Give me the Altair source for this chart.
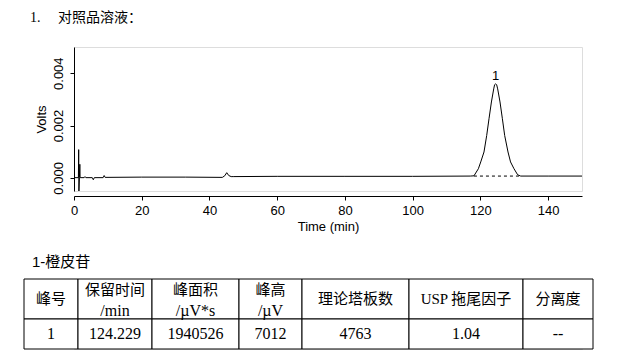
import altair as alt
import pandas as pd

# ---------------- data ----------------
trace_time = [0, 1.3, 1.38, 1.45, 1.6, 1.72, 1.8, 3.0, 3.25, 3.5, 5.4, 5.7, 6.0,
              8.6, 8.9, 9.2, 20, 33, 43.8, 44.5, 45.1, 45.7, 46.4, 47, 60, 80, 100,
              117, 118.1, 119.4, 120.1, 121.06, 121.86, 122.54, 123.25, 123.93,
              124.2, 124.5, 124.8, 125.1, 125.79, 126.49, 127.17, 128.15, 128.9,
              129.92, 131.0, 131.9, 140, 150]
trace_volts = [0.00001, 0.00001, 0.00108, -0.0005, 0.00001, 0.00052, 0.00001,
               0.00001, 0.00005, 0.00001, 0.00001, -0.00007, 0.00001,
               0.00001, 0.00009, 0.00002, 0.00003, 0.00003, 0.00002, 0.00008,
               0.0002, 0.00009, 0.00005, 0.00005, 0.00006, 0.00006, 0.00006,
               0.00007, 0.00008, 0.00035, 0.00061, 0.00099, 0.00162, 0.00226,
               0.0029, 0.0034, 0.00356, 0.00359, 0.00356, 0.0034, 0.0029,
               0.00226, 0.00162, 0.00099, 0.00061, 0.00035, 0.00012, 0.00007,
               0.00007, 0.00007]

baseline_time = [118.1, 131.9]
baseline_volts = [0.00007, 0.00007]

peak_time = [124.5]
peak_volts = [0.00359]
peak_name = ["1"]

header_main = ["峰号", "保留时间", "峰面积", "峰高", "理论塔板数", "USP 拖尾因子", "分离度"]
header_unit = ["", "/min", "/µV*s", "/µV", "", "", ""]
row_values = ["1", "124.229", "1940526", "7012", "4763", "1.04", "--"]

# ---------------- layout constants ----------------
col_widths = [54, 74, 87, 63, 107, 114, 70]
row_heights = [40, 30]

SERIF_CJK = "Liberation Serif, Noto Sans CJK SC"
SANS = "Liberation Sans, Arial, Noto Sans CJK SC"

trace_df = pd.DataFrame({"t": trace_time, "v": trace_volts})
base_df = pd.DataFrame({"t": baseline_time, "v": baseline_volts})
peak_df = pd.DataFrame({"t": peak_time, "v": peak_volts, "name": peak_name})

xs = alt.Scale(domain=[0, 150], nice=False, zero=False)
ys = alt.Scale(domain=[-0.0005, 0.005], nice=False, zero=False)

x_axis = alt.Axis(
    title="Time (min)", values=list(range(0, 151, 10)),
    labelExpr="datum.value % 20 == 0 ? datum.label : ''",
    grid=False, offset=5, tickSize=4, labelPadding=4, titlePadding=3,
    labelFont=SANS, titleFont=SANS, labelFontSize=13, titleFontSize=13,
    titleFontWeight="normal", labelColor="black", titleColor="black",
    domainColor="black", tickColor="black", labelFlush=False,
)
y_axis = alt.Axis(
    title="Volts", values=[0, 0.001, 0.002, 0.003, 0.004],
    labelExpr="round(datum.value * 1000) % 2 == 0 ? format(datum.value, '.3f') : ''",
    grid=False, tickSize=4, labelAngle=270, labelAlign="center",
    labelBaseline="alphabetic", labelPadding=8, titlePadding=4,
    labelFont=SANS, titleFont=SANS, labelFontSize=13, titleFontSize=13,
    titleFontWeight="normal", labelColor="black", titleColor="black",
    domainColor="black", tickColor="black", labelFlush=False,
)

line = alt.Chart(trace_df).mark_line(color="black", strokeWidth=1).encode(
    x=alt.X("t:Q", scale=xs, axis=x_axis),
    y=alt.Y("v:Q", scale=ys, axis=y_axis),
)
dash = alt.Chart(base_df).mark_line(color="black", strokeWidth=1, strokeDash=[3, 3]).encode(
    x=alt.X("t:Q", scale=xs), y=alt.Y("v:Q", scale=ys)
)
label = alt.Chart(peak_df).mark_text(
    dy=-8, font=SANS, fontSize=13, color="black", baseline="middle"
).encode(x=alt.X("t:Q", scale=xs), y=alt.Y("v:Q", scale=ys), text="name:N")

top = alt.layer(line, dash, label).properties(
    width=508, height=144,
    title=alt.TitleParams(
        "1.\u2003\u00a0对照品溶液：", anchor="start", frame="group", dx=-44,
        offset=22, font=SERIF_CJK, fontSize=14, fontWeight="normal", color="black",
    ),
)

# ---------------- table ----------------
edges = [0]
for w in col_widths:
    edges.append(edges[-1] + w)
rows_y = [0, row_heights[0], row_heights[0] + row_heights[1]]

cells = []
for r in range(2):
    for c in range(len(col_widths)):
        cells.append({"x0": edges[c], "x1": edges[c + 1], "y0": rows_y[r], "y1": rows_y[r + 1]})
cells_df = pd.DataFrame(cells)

head_texts = []
value_texts = []
for c in range(len(col_widths)):
    cx = (edges[c] + edges[c + 1]) / 2
    if header_unit[c]:
        head_texts.append({"x": cx, "y": row_heights[0] * 0.28, "s": header_main[c]})
        value_texts.append({"x": cx, "y": row_heights[0] * 0.79, "s": header_unit[c]})
    else:
        head_texts.append({"x": cx, "y": row_heights[0] * 0.5, "s": header_main[c]})
    value_texts.append({"x": cx, "y": row_heights[0] + row_heights[1] * 0.5, "s": row_values[c]})
head_df = pd.DataFrame(head_texts)
value_df = pd.DataFrame(value_texts)

tx = alt.Scale(domain=[0, edges[-1]], range=[-50, edges[-1] - 50], nice=False, zero=False)
ty = alt.Scale(domain=[0, rows_y[-1]], reverse=True, nice=False, zero=False)

rects = alt.Chart(cells_df).mark_rect(fill="white", stroke="black", strokeWidth=1).encode(
    x=alt.X("x0:Q", scale=tx, axis=None), x2="x1:Q",
    y=alt.Y("y0:Q", scale=ty, axis=None), y2="y1:Q",
)
head_text = alt.Chart(head_df).mark_text(
    font=SERIF_CJK, fontSize=15, color="black", baseline="middle", align="center"
).encode(
    x=alt.X("x:Q", scale=tx, axis=None), y=alt.Y("y:Q", scale=ty, axis=None), text="s:N"
)
value_text = alt.Chart(value_df).mark_text(
    font=SERIF_CJK, fontSize=16, color="black", baseline="middle", align="center"
).encode(
    x=alt.X("x:Q", scale=tx, axis=None), y=alt.Y("y:Q", scale=ty, axis=None), text="s:N"
)

table = alt.layer(rects, head_text, value_text).properties(
    width=508, height=rows_y[-1],
    title=alt.TitleParams(
        "1-橙皮苷", anchor="start", frame="group", dx=-42, offset=9,
        font=SANS, fontSize=15, fontWeight="normal", color="black",
    ),
)

chart = alt.vconcat(top, table, spacing=20).properties(
    padding={"left": 15, "top": 2, "right": 5, "bottom": 5}
).configure_view(stroke=None).configure(background="white")

chart.save("out.html", embed_options={"renderer": "svg", "actions": False})
